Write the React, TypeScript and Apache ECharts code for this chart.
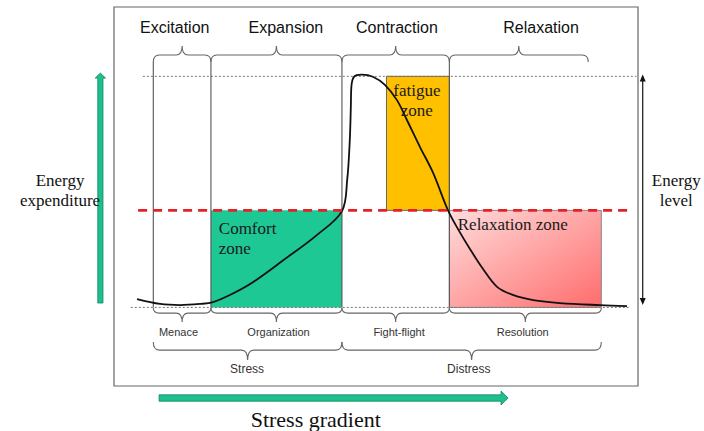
import React, { useEffect, useRef } from "react";
import * as echarts from "echarts";

// ---------- data (x: stress gradient 0..100, y: energy 0..100) ----------
const stageNames = ["Excitation", "Expansion", "Contraction", "Relaxation"];
const stageLabelX = [11.6, 32.8, 54.0, 81.5];
const stageLabelY = [121, 121, 121, 121];
const stageBraces = [[7.5, 18.5], [18.5, 43.5], [43.5, 64], [64, 90.5]];
const boundaryX = [7.5, 18.5, 43.5, 64];

const phaseNames = ["Menace", "Organization", "Fight-flight", "Resolution"];
const phaseLabelX = [12.3, 31.4, 54.4, 78.0];
const phaseLabelY = [-10.8, -10.8, -10.8, -10.8];
const phaseBraces = [[7.5, 18.5], [18.5, 43.5], [43.5, 64], [64, 93]];

const groupNames = ["Stress", "Distress"];
const groupLabelX = [25.4, 67.7];
const groupLabelY = [-26.8, -26.8];
const groupBraces = [[7.5, 43.5], [43.5, 93]];

const curveX = [4.4, 8.8, 12.6, 16.4, 18.9, 22.5, 26.5, 32.3, 38.7, 43.5, 44.5, 45.0, 45.2, 45.3, 45.8, 47.3, 49.4, 51.7, 54.0, 55.9, 58.4, 60.9, 63.7, 65.6, 67.9, 70.4, 73.1, 76.1, 80.0, 85.1, 92.7, 97.9];
const curveY = [3.6, 1.5, 1.0, 1.5, 2.3, 5.8, 10.9, 20.4, 31.3, 41.7, 55.2, 72.5, 86.8, 95.5, 99.8, 100.7, 99.8, 96.3, 89.7, 81.1, 69.4, 58.2, 42.2, 34.1, 25.4, 16.7, 8.9, 5.4, 3.2, 1.9, 1.0, 0.6];

const zoneNames = ["Comfort\nzone", "fatigue\nzone", "Relaxation zone"];
const zoneX0 = [18.5, 52, 64];
const zoneX1 = [43.5, 64, 93];
const zoneY0 = [0, 42, 0];
const zoneY1 = [42, 100, 42];
const zoneLabelX = [20.0, 57.8, 65.6];
const zoneLabelY = [30.0, 89.7, 35.7];

const thresholdY = 42;
const maxLevel = 100;
const baseLevel = 0;

const sideNames = ["Energy\nexpenditure", "Energy\nlevel"];
const sideLabelX = [-10.3, 107.3];
const sideLabelY = [50.8, 50.8];

const gradientName = ["Stress gradient"];
const gradientLabelX = [38.5];
const gradientLabelY = [-48.7];

// arrows: [x0, y0, x1, y1, kind]
const arrows = [
  [-2.6, 1.9, -2.6, 101.4, 0],
  [8.6, -39.2, 75.2, -39.2, 1],
  [100.9, 1.0, 100.9, 100.8, 2],
];

const SANS = '"Liberation Sans", Arial, sans-serif';
const SERIF = '"Liberation Serif", "Times New Roman", serif';

function braceSeries(items: number[][], yEnd: number, dir: number, f: number, t: number) {
  return {
    type: "custom",
    silent: true,
    z: 4,
    data: items.map((b) => [b[0], b[1]]),
    renderItem: (params: any, api: any) => {
      const a = api.coord([api.value(0), yEnd]);
      const b = api.coord([api.value(1), yEnd]);
      const ye = a[1];
      const yF = ye + dir * f;
      const yT = ye + dir * t;
      const xa = a[0];
      const xb = b[0];
      const xm = (xa + xb) / 2;
      const r = Math.min(6, (xb - xa) / 4);
      const d = `M${xa} ${ye}Q${xa} ${yF} ${xa + r} ${yF}L${xm - r} ${yF}Q${xm} ${yF} ${xm} ${yT}Q${xm} ${yF} ${xm + r} ${yF}L${xb - r} ${yF}Q${xb} ${yF} ${xb} ${ye}`;
      return {
        type: "path",
        shape: { pathData: d },
        style: { fill: "none", stroke: "#666", lineWidth: 1.1 },
      };
    },
  };
}

function textSeries(texts: string[], xs: number[], ys: number[], size: number, family: string, color: string, align: string, lineHeight?: number) {
  return {
    type: "custom",
    silent: true,
    z: 10,
    data: xs.map((x, i) => [x, ys[i]]),
    renderItem: (params: any, api: any) => {
      const p = api.coord([api.value(0), api.value(1)]);
      return {
        type: "text",
        x: p[0],
        y: p[1],
        style: {
          text: texts[params.dataIndex],
          fontSize: size,
          fontFamily: family,
          fill: color,
          align,
          verticalAlign: "middle",
          lineHeight: lineHeight || size * 1.2,
        },
      };
    },
  };
}

function hLine(x0: number, x1: number, y: number, style: any, z: number) {
  return {
    type: "line",
    silent: true,
    clip: false,
    symbol: "none",
    z,
    data: [[x0, y], [x1, y]],
    lineStyle: style,
  };
}

export default function App() {
  const ref = useRef<HTMLDivElement>(null);
  useEffect(() => {
    const chart = echarts.init(ref.current!, null, { renderer: "svg" });
    const pink = new echarts.graphic.LinearGradient(0, 0, 1, 1, [
      { offset: 0, color: "#FFDCDC" },
      { offset: 1, color: "#FF6C6C" },
    ]);
    const zoneFill = ["#1DC894", "#FFC000", pink];
    const zoneStroke = ["none", "#666", "#888"];
    const option: any = {
      animation: false,
      backgroundColor: "#fff",
      grid: {
        left: 114,
        right: 66,
        top: 7,
        bottom: 45,
        show: true,
        borderColor: "#666",
        borderWidth: 1.2,
        backgroundColor: "transparent",
      },
      xAxis: { type: "value", min: 0, max: 100, show: false },
      yAxis: { type: "value", min: -34, max: 130, show: false },
      series: [
        // zones
        {
          type: "custom",
          silent: true,
          z: 1,
          data: zoneX0.map((x, i) => [x, zoneX1[i], zoneY0[i], zoneY1[i]]),
          renderItem: (params: any, api: any) => {
            const i = params.dataIndex;
            const a = api.coord([api.value(0), api.value(3)]);
            const b = api.coord([api.value(1), api.value(2)]);
            return {
              type: "rect",
              shape: { x: a[0], y: a[1], width: b[0] - a[0], height: b[1] - a[1] },
              style: { fill: zoneFill[i], stroke: zoneStroke[i], lineWidth: 1 },
            };
          },
        },
        // boundary verticals
        {
          type: "custom",
          silent: true,
          z: 4,
          data: boundaryX.map((x) => [x]),
          renderItem: (params: any, api: any) => {
            const a = api.coord([api.value(0), 106.2]);
            const b = api.coord([api.value(0), baseLevel]);
            return {
              type: "line",
              shape: { x1: a[0], y1: a[1], x2: b[0], y2: b[1] },
              style: { stroke: "#555", lineWidth: 1.1 },
            };
          },
        },
        braceSeries(stageBraces, 106.2, -1, 7, 16),
        braceSeries(phaseBraces, -0.3, 1, 5, 14),
        braceSeries(groupBraces, -15, 1, 8, 18),
        // reference lines
        hLine(5.5, 99.7, maxLevel, { color: "#777", width: 1, type: [2, 2] }, 3),
        hLine(3.2, 98.5, baseLevel, { color: "#777", width: 1, type: [2, 2] }, 3),
        // curve
        {
          type: "line",
          silent: true,
          clip: false,
          symbol: "none",
          smooth: 0.35,
          z: 6,
          data: curveX.map((x, i) => [x, curveY[i]]),
          lineStyle: { color: "#111", width: 1.8 },
        },
        hLine(4.6, 98.9, thresholdY, { color: "#E32228", width: 2.6, type: [9, 6] }, 7),
        // arrows
        {
          type: "custom",
          silent: true,
          z: 8,
          data: arrows,
          renderItem: (params: any, api: any) => {
            const kind = api.value(4);
            const p0 = api.coord([api.value(0), api.value(1)]);
            const p1 = api.coord([api.value(2), api.value(3)]);
            const dx = p1[0] - p0[0];
            const dy = p1[1] - p0[1];
            const L = Math.hypot(dx, dy);
            const ux = dx / L, uy = dy / L;
            const nx = -uy, ny = ux;
            const head = (tip: number[], sx: number, sy: number, hh: number, hl: number) => [
              [tip[0] - sx * hl + nx * hh, tip[1] - sy * hl + ny * hh],
              tip,
              [tip[0] - sx * hl - nx * hh, tip[1] - sy * hl - ny * hh],
            ];
            if (kind < 2) {
              const hw = kind === 0 ? 2.6 : 3.2;
              const hh = kind === 0 ? 5.2 : 7;
              const hl = kind === 0 ? 5 : 7;
              const bx = p1[0] - ux * hl, by = p1[1] - uy * hl;
              const pts = [
                [p0[0] + nx * hw, p0[1] + ny * hw],
                [bx + nx * hw, by + ny * hw],
                [bx + nx * hh, by + ny * hh],
                p1,
                [bx - nx * hh, by - ny * hh],
                [bx - nx * hw, by - ny * hw],
                [p0[0] - nx * hw, p0[1] - ny * hw],
              ];
              return {
                type: "polygon",
                shape: { points: pts },
                style: { fill: "#1DBF8E", stroke: "#12865F", lineWidth: 0.8 },
              };
            }
            return {
              type: "group",
              children: [
                {
                  type: "line",
                  shape: { x1: p0[0] + ux * 5, y1: p0[1] + uy * 5, x2: p1[0] - ux * 5, y2: p1[1] - uy * 5 },
                  style: { stroke: "#111", lineWidth: 1.2 },
                },
                { type: "polygon", shape: { points: head(p1, ux, uy, 3, 7) }, style: { fill: "#111" } },
                { type: "polygon", shape: { points: head(p0, -ux, -uy, 3, 7) }, style: { fill: "#111" } },
              ],
            };
          },
        },
        // texts
        textSeries(stageNames, stageLabelX, stageLabelY, 16, SANS, "#111", "center"),
        textSeries(phaseNames, phaseLabelX, phaseLabelY, 11, SANS, "#333", "center"),
        textSeries(groupNames, groupLabelX, groupLabelY, 12, SANS, "#333", "center"),
        textSeries([zoneNames[0]], [zoneLabelX[0]], [zoneLabelY[0]], 17, SERIF, "#1a1a1a", "left", 20),
        textSeries([zoneNames[1]], [zoneLabelX[1]], [zoneLabelY[1]], 17, SERIF, "#1a1a1a", "center", 20),
        textSeries([zoneNames[2]], [zoneLabelX[2]], [zoneLabelY[2]], 17, SERIF, "#1a1a1a", "left", 20),
        textSeries(sideNames, sideLabelX, sideLabelY, 17, SERIF, "#111", "center", 20),
        textSeries(gradientName, gradientLabelX, gradientLabelY, 22, SERIF, "#111", "center"),
      ],
    };
    chart.setOption(option);
    return () => chart.dispose();
  }, []);
  return (
    <div
      ref={ref}
      style={{ position: "fixed", left: 0, top: 0, width: 704, height: 431, background: "#fff" }}
    />
  );
}
